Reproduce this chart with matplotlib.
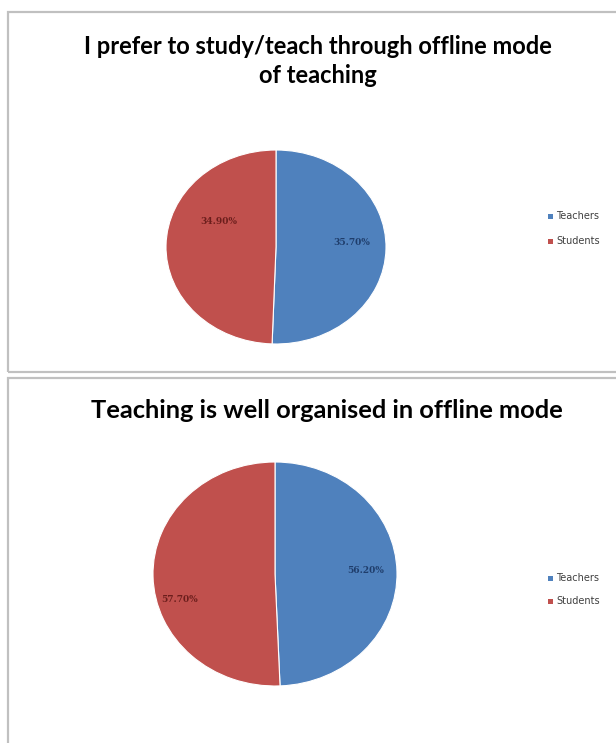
import matplotlib
matplotlib.use("Agg")
import matplotlib.pyplot as plt
from matplotlib.patches import Rectangle
import numpy as np

W, H = 616, 743

categories = ["Teachers", "Students"]
top_values = [35.70, 34.90]
bottom_values = [56.20, 57.70]
top_title = "I prefer to study/teach through offline mode\nof teaching"
bottom_title = "Teaching is well organised in offline mode"

colors = ["#4F81BD", "#C0504D"]
text_colors = ["#1F3D6B", "#6B1E1C"]

fig = plt.figure(figsize=(W / 100, H / 100), dpi=100)
fig.patch.set_facecolor("white")


def px_axes(x0, y0, x1, y1):
    return fig.add_axes([x0 / W, 1 - y1 / H, (x1 - x0) / W, (y1 - y0) / H])


def panel_border(x0, y0, x1, y1):
    fig.add_artist(Rectangle((x0 / W, 1 - y1 / H), (x1 - x0) / W, (y1 - y0) / H,
                             transform=fig.transFigure, fill=False,
                             edgecolor="#C0C0C0", linewidth=1.6))


def draw_pie(center, rx, ry, values, label_offsets):
    cx, cy = center
    ax = px_axes(cx - rx, cy - ry, cx + rx, cy + ry)
    wedges, _ = ax.pie(values, colors=colors, startangle=90, counterclock=False,
                       wedgeprops=dict(linewidth=0.8, edgecolor="white"))
    ax.set_aspect("auto")
    ax.set_xlim(-1, 1)
    ax.set_ylim(-1, 1)
    ax.axis("off")
    for v, (dx, dy), tc in zip(values, label_offsets, text_colors):
        ax.text(dx, dy, f"{v:.2f}%", ha="center", va="center", fontsize=6.5,
                color=tc, fontweight="bold", family="DejaVu Serif")
    return ax


def legend(x, y, dy):
    for i, (c, name) in enumerate(zip(colors, categories)):
        yy = y + i * dy
        fig.add_artist(Rectangle(((x) / W, 1 - (yy + 3) / H), 5 / W, 5 / H,
                                 transform=fig.transFigure, facecolor=c,
                                 edgecolor="none"))
        fig.text((x + 8) / W, 1 - yy / H, name, ha="left", va="center",
                 fontsize=7, color="#404040", family="DejaVu Sans")


# Panels
panel_border(8, 12, 640, 372)
panel_border(8, 378, 640, 760)

# Titles
fig.text(318 / W, 1 - 61 / H, top_title, ha="center", va="center",
         fontsize=17, fontweight="bold", family="Lato", color="#000000",
         linespacing=1.3)
fig.text(327 / W, 1 - 411 / H, bottom_title, ha="center", va="center",
         fontsize=18.3, fontweight="bold", family="Lato", color="#000000")

# Pies
draw_pie((276, 247), 110, 97, top_values, [(0.69, 0.05), (-0.52, 0.26)])
draw_pie((275, 574), 122, 112, bottom_values, [(0.74, 0.03), (-0.78, -0.23)])

# Legends
legend(548, 216, 25)
legend(548, 578, 23)

fig.savefig("out.png", dpi=100, facecolor="white")
